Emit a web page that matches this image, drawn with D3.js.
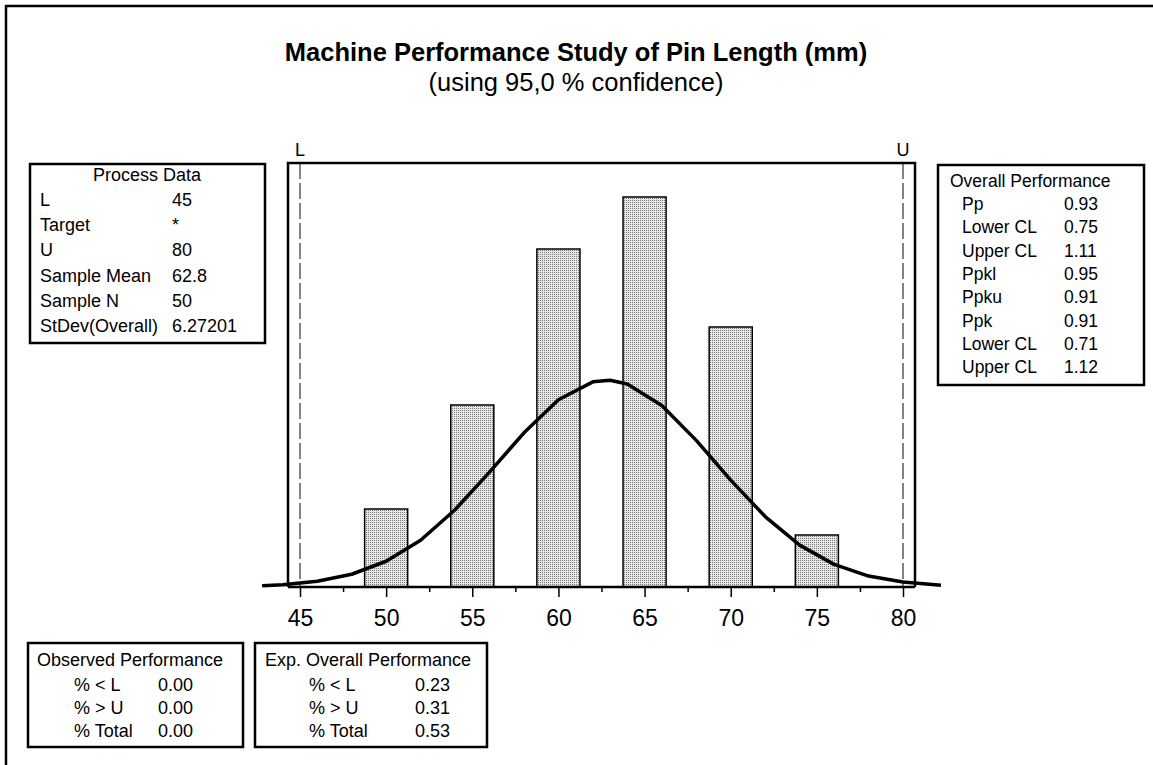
<!DOCTYPE html>
<html>
<head>
<meta charset="utf-8">
<script src="https://cdn.jsdelivr.net/npm/d3@7"></script>
<style>
  body { margin: 0; background: #fff; }
  svg text { font-family: "Liberation Sans", Arial, sans-serif; fill: #000; }
</style>
</head>
<body>
<div id="chart"></div>
<script>
// Histogram data (bins are 2.5 mm wide, centred on the tick values)
const binCenters = [50, 55, 60, 65, 70, 75];
const binCounts = [3, 7, 13, 15, 10, 2];
const binWidth = 2.5;

// Fitted normal curve (in count units)
const curveX = [42.8, 44, 46, 48, 50, 52, 54, 56, 58, 60, 62, 63, 64, 66, 68, 70, 72, 74, 76, 78, 80, 82.2];
const curveY = [0.05, 0.09, 0.22, 0.49, 0.99, 1.80, 2.97, 4.42, 5.93, 7.20, 7.89, 7.95, 7.81, 6.98, 5.64, 4.11, 2.71, 1.61, 0.87, 0.42, 0.19, 0.07];

const tickValues = [45, 50, 55, 60, 65, 70, 75, 80];
const minorTicks = [47.5, 52.5, 57.5, 62.5, 67.5, 72.5, 77.5];
const specLimits = [{ name: "L", value: 45 }, { name: "U", value: 80 }];

const processLabels = ["L", "Target", "U", "Sample Mean", "Sample N", "StDev(Overall)"];
const processValues = ["45", "*", "80", "62.8", "50", "6.27201"];

const overallLabels = ["Pp", "Lower CL", "Upper CL", "Ppkl", "Ppku", "Ppk", "Lower CL", "Upper CL"];
const overallValues = ["0.93", "0.75", "1.11", "0.95", "0.91", "0.91", "0.71", "1.12"];

const observedLabels = ["% < L", "% > U", "% Total"];
const observedValues = ["0.00", "0.00", "0.00"];
const expectedLabels = ["% < L", "% > U", "% Total"];
const expectedValues = ["0.23", "0.31", "0.53"];

const W = 1153, H = 765;
const svg = d3.select("#chart").append("svg")
    .attr("width", W)
    .attr("height", H);

svg.append("rect").attr("width", W).attr("height", H).attr("fill", "#fff");

// stipple fill for the bars
const defs = svg.append("defs");
const pat = defs.append("pattern")
    .attr("id", "stipple")
    .attr("width", 2).attr("height", 2)
    .attr("patternUnits", "userSpaceOnUse");
pat.append("rect").attr("width", 2).attr("height", 2).attr("fill", "#e6e6e6");
pat.append("rect").attr("width", 1).attr("height", 1).attr("fill", "#7a7a7a");

// outer border
svg.append("rect")
    .attr("x", 6).attr("y", 6)
    .attr("width", 1160).attr("height", 770)
    .attr("fill", "none").attr("stroke", "#000").attr("stroke-width", 2.5);

// Titles
svg.append("text")
    .attr("x", 576).attr("y", 61)
    .attr("text-anchor", "middle")
    .style("font-size", "25.5px").style("font-weight", "bold")
    .text("Machine Performance Study of Pin Length (mm)");
svg.append("text")
    .attr("x", 576).attr("y", 91)
    .attr("text-anchor", "middle")
    .style("font-size", "25.5px")
    .text("(using 95,0 % confidence)");

// Scales
const x = d3.scaleLinear().domain([45, 80]).range([300, 903]);
const y = d3.scaleLinear().domain([0, 16]).range([587, 171]);

const plotLeft = 288, plotRight = 915, plotTop = 163, plotBottom = 587;

// Bars
svg.selectAll(".bar")
    .data(binCenters)
    .enter()
    .append("rect")
    .attr("class", "bar")
    .attr("x", d => x(d - binWidth / 2))
    .attr("y", (d, i) => y(binCounts[i]))
    .attr("width", d => x(d + binWidth / 2) - x(d - binWidth / 2))
    .attr("height", (d, i) => y(0) - y(binCounts[i]))
    .attr("fill", "url(#stipple)")
    .attr("stroke", "#000")
    .attr("stroke-width", 1.5);

// Spec limit lines
svg.selectAll(".spec")
    .data(specLimits)
    .enter()
    .append("line")
    .attr("x1", d => x(d.value)).attr("x2", d => x(d.value))
    .attr("y1", plotTop).attr("y2", plotBottom)
    .attr("stroke", "#333").attr("stroke-width", 1.2)
    .attr("stroke-dasharray", "16,4");

svg.selectAll(".specLabel")
    .data(specLimits)
    .enter()
    .append("text")
    .attr("x", d => x(d.value))
    .attr("y", 156)
    .attr("text-anchor", "middle")
    .style("font-size", "18px")
    .text(d => d.name);

// Plot frame (left, top, right)
svg.append("path")
    .attr("d", `M${plotLeft},${plotBottom}V${plotTop}H${plotRight}V${plotBottom}`)
    .attr("fill", "none").attr("stroke", "#000").attr("stroke-width", 2.5);

// Axes
const axis = svg.append("g")
    .attr("transform", `translate(0,${plotBottom})`)
    .call(d3.axisBottom(x).tickValues(tickValues).tickSize(10).tickPadding(13).tickFormat(d3.format("d")));
axis.select(".domain").remove();
axis.selectAll("line").attr("stroke", "#000").attr("stroke-width", 1.5);
axis.selectAll("text")
    .style("font-size", "23px")
    .style("font-family", "'Liberation Sans', Arial, sans-serif")
    .attr("fill", "#000");

const minor = svg.append("g")
    .attr("transform", `translate(0,${plotBottom})`)
    .call(d3.axisBottom(x).tickValues(minorTicks).tickSize(5).tickFormat(""));
minor.select(".domain").remove();
minor.selectAll("line").attr("stroke", "#000").attr("stroke-width", 1.5);

svg.append("line")
    .attr("x1", plotLeft).attr("x2", plotRight)
    .attr("y1", plotBottom).attr("y2", plotBottom)
    .attr("stroke", "#000").attr("stroke-width", 2.5);

// Normal curve
const line = d3.line()
    .x(d => x(d[0]))
    .y(d => y(d[1]));
svg.append("path")
    .datum(curveX.map((v, i) => [v, curveY[i]]))
    .attr("d", line)
    .attr("fill", "none")
    .attr("stroke", "#000")
    .attr("stroke-width", 3.5)
    .attr("stroke-linejoin", "round");

// Info boxes
function infoBox(box) {
    const g = svg.append("g");
    g.append("rect")
        .attr("x", box.x).attr("y", box.y)
        .attr("width", box.w).attr("height", box.h)
        .attr("fill", "#fff").attr("stroke", "#000").attr("stroke-width", 2.5);
    g.append("text")
        .attr("x", box.titleX).attr("y", box.titleY)
        .attr("text-anchor", box.titleAnchor)
        .style("font-size", box.font)
        .text(box.title);
    box.labels.forEach((lab, i) => {
        g.append("text")
            .attr("x", box.labelX).attr("y", box.rowY + i * box.step)
            .style("font-size", box.font)
            .text(lab);
        g.append("text")
            .attr("x", box.valueX).attr("y", box.rowY + i * box.step)
            .style("font-size", box.font)
            .text(box.values[i]);
    });
}

infoBox({
    x: 30, y: 164, w: 235, h: 179, font: "18px",
    title: "Process Data", titleX: 147, titleY: 181, titleAnchor: "middle",
    labels: processLabels, values: processValues,
    labelX: 40, valueX: 172, rowY: 206, step: 25.2
});

infoBox({
    x: 938, y: 165, w: 206, h: 220, font: "17.5px",
    title: "Overall Performance", titleX: 950, titleY: 187, titleAnchor: "start",
    labels: overallLabels, values: overallValues,
    labelX: 962, valueX: 1064, rowY: 210, step: 23.3
});

infoBox({
    x: 28, y: 643, w: 215, h: 104, font: "18px",
    title: "Observed Performance", titleX: 37, titleY: 666, titleAnchor: "start",
    labels: observedLabels, values: observedValues,
    labelX: 74, valueX: 158, rowY: 691, step: 23
});

infoBox({
    x: 255, y: 643, w: 232, h: 104, font: "18px",
    title: "Exp. Overall Performance", titleX: 265, titleY: 666, titleAnchor: "start",
    labels: expectedLabels, values: expectedValues,
    labelX: 309, valueX: 415, rowY: 691, step: 23
});
</script>
</body>
</html>
